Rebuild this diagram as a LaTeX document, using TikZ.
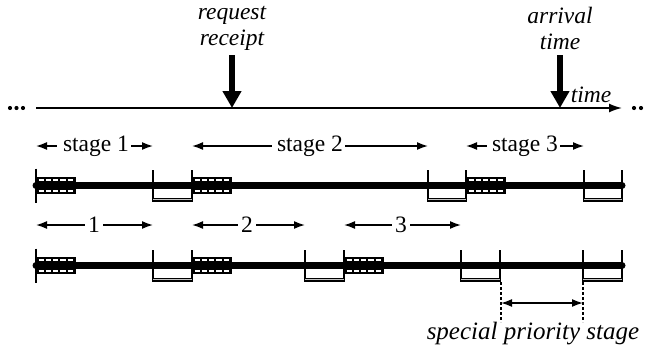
\documentclass[tikz,border=0pt]{standalone}
\usepackage{fontspec}
\setmainfont{Liberation Serif}
\usetikzlibrary{arrows.meta}

% service period with hatched interior, left edge at #1, centre line at #2
\newcommand\workbox[2]{%
  \fill (#1,#2-8.8) rectangle (#1+40,#2+8.8);
  \draw[white, line width=2.4pt, dash pattern=on 5.2pt off 2.1pt]
    (#1+2.5,#2-5.5) -- (#1+38,#2-5.5);
  \draw[white, line width=2.4pt, dash pattern=on 5.2pt off 2.1pt]
    (#1+2.5,#2+5.5) -- (#1+38,#2+5.5);
}
% waiting gap between #1 and #2 on the line at #3
\newcommand\gapbox[3]{%
  \draw[line width=1.8pt] (#1,#3-15.5) -- (#1,#3+16);
  \draw[line width=1.8pt] (#2,#3-15.5) -- (#2,#3+16);
  \draw[line width=1.1pt, double=gray!45, double distance=1.4pt]
    (#1,#3+14.2) -- (#2,#3+14.2);
}

\begin{document}
\begin{tikzpicture}[x=1pt, y=-1pt,
  lbl/.style={font=\fontsize{23.5}{26}\selectfont, inner sep=0pt},
  itl/.style={font=\fontsize{23.5}{26}\selectfont\itshape, align=center, inner sep=0pt},
  span/.style={line width=1.6pt, -{Latex[length=11pt,width=8pt]}},
  bothspan/.style={line width=1.6pt, {Latex[length=11pt,width=8pt]}-{Latex[length=11pt,width=8pt]}},
  event/.style={line width=5.5pt, -{Triangle[length=17pt,width=18pt]}},
  track/.style={line width=7pt, line cap=round},
  dotsym/.style={circle, fill, inner sep=0pt, minimum size=4.2pt}
]
\useasboundingbox (0,0) rectangle (646,351);

% ---- time axis ----
\coordinate (t0) at (36,108);
\coordinate (t1) at (622,108);
\draw[line width=1.6pt, -{Latex[length=13pt,width=9pt]}] (t0) -- (t1);
\node[dotsym] (l1) at (10,108) {};
\node[dotsym] (l2) at (16.5,108) {};
\node[dotsym] (l3) at (23,108) {};
\node[dotsym] (r1) at (634,108) {};
\node[dotsym] (r2) at (641,108) {};
\node[itl] (tl) at (591,95) {time};

% ---- events ----
\node[itl] (req) at (232,28) {request\\receipt};
\coordinate (reqa) at (232,55);
\coordinate (reqb) at (232,108);
\draw[event] (reqa) -- (reqb);
\node[itl] (arr) at (560,28) {arrival\\time};
\coordinate (arra) at (560,55);
\coordinate (arrb) at (560,108);
\draw[event] (arra) -- (arrb);

% ---- first track ----
\def\ya{185.5}
\coordinate (a0) at (36,\ya);
\coordinate (aE) at (622,\ya);
\draw[track] (a0) -- (aE);
\draw[line width=1.8pt] (36,\ya-17) -- (36,\ya+17);
\workbox{36}{\ya}
\gapbox{153}{192}{\ya}
\workbox{192}{\ya}
\gapbox{428}{466}{\ya}
\workbox{466}{\ya}
\gapbox{584}{622}{\ya}

% stage spans
\node[lbl] (s1) at (96,146) {stage 1};
\coordinate (s1l) at (36,146);  \coordinate (s1r) at (153,146);
\draw[span] ([xshift=-6pt]s1.west) -- (s1l);
\draw[span] ([xshift=2pt]s1.east) -- (s1r);
\node[lbl] (s2) at (310,146) {stage 2};
\coordinate (s2l) at (192,146); \coordinate (s2r) at (428,146);
\draw[span] ([xshift=-5pt]s2.west) -- (s2l);
\draw[span] ([xshift=2pt]s2.east) -- (s2r);
\node[lbl] (s3) at (525,146) {stage 3};
\coordinate (s3l) at (466,146); \coordinate (s3r) at (584,146);
\draw[span] ([xshift=-5pt]s3.west) -- (s3l);
\draw[span] ([xshift=2pt]s3.east) -- (s3r);

% ---- second track ----
\def\yb{265.5}
\coordinate (b0) at (36,\yb);
\coordinate (bE) at (622,\yb);
\draw[track] (b0) -- (bE);
\draw[line width=1.8pt] (36,\yb-17) -- (36,\yb+17);
\workbox{36}{\yb}
\gapbox{153}{192}{\yb}
\workbox{192}{\yb}
\gapbox{305}{344}{\yb}
\workbox{344}{\yb}
\gapbox{461}{500}{\yb}
\gapbox{583}{622}{\yb}

% numbered spans
\node[lbl] (n1) at (94,225) {1};
\coordinate (n1l) at (36,225);  \coordinate (n1r) at (153,225);
\draw[span] ([xshift=-3pt]n1.west) -- (n1l);
\draw[span] ([xshift=3pt]n1.east) -- (n1r);
\node[lbl] (n2) at (247,225) {2};
\coordinate (n2l) at (192,225); \coordinate (n2r) at (305,225);
\draw[span] ([xshift=-3pt]n2.west) -- (n2l);
\draw[span] ([xshift=3pt]n2.east) -- (n2r);
\node[lbl] (n3) at (401,225) {3};
\coordinate (n3l) at (344,225); \coordinate (n3r) at (461,225);
\draw[span] ([xshift=-3pt]n3.west) -- (n3l);
\draw[span] ([xshift=3pt]n3.east) -- (n3r);

% ---- special priority stage ----
\coordinate (p1a) at (501,282); \coordinate (p1b) at (501,322);
\coordinate (p2a) at (583,282); \coordinate (p2b) at (583,322);
\draw[line width=1.6pt, dash pattern=on 2.5pt off 2.5pt] (p1a) -- (p1b);
\draw[line width=1.6pt, dash pattern=on 2.5pt off 2.5pt] (p2a) -- (p2b);
\coordinate (pl) at (501,303); \coordinate (pr) at (583,303);
\draw[bothspan] (pl) -- (pr);
\node[itl, font=\fontsize{25}{26}\selectfont\itshape] (sp) at (533,334) {special priority stage};
\end{tikzpicture}
\end{document}
